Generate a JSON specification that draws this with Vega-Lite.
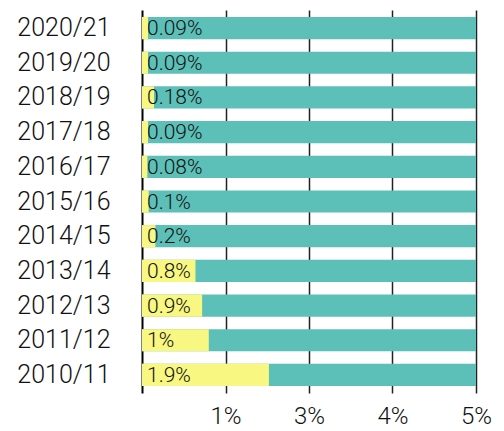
{
  "$schema": "https://vega.github.io/schema/vega-lite/v6.json",
  "autosize": {"type": "none"},
  "padding": {"left": 142, "top": 10, "right": 28, "bottom": 38},
  "width": 334,
  "height": 383,
  "background": "white",
  "config": {
    "view": {"stroke": null},
    "font": "Roboto"
  },
  "data": {
    "values": [
      {"year": "2020/21", "share": 0.0009, "total": 0.05},
      {"year": "2019/20", "share": 0.0009, "total": 0.05},
      {"year": "2018/19", "share": 0.0018, "total": 0.05},
      {"year": "2017/18", "share": 0.0009, "total": 0.05},
      {"year": "2016/17", "share": 0.0008, "total": 0.05},
      {"year": "2015/16", "share": 0.001, "total": 0.05},
      {"year": "2014/15", "share": 0.002, "total": 0.05},
      {"year": "2013/14", "share": 0.008, "total": 0.05},
      {"year": "2012/13", "share": 0.009, "total": 0.05},
      {"year": "2011/12", "share": 0.01, "total": 0.05},
      {"year": "2010/11", "share": 0.019, "total": 0.05}
    ]
  },
  "encoding": {
    "y": {
      "field": "year",
      "type": "nominal",
      "sort": null,
      "scale": {"paddingInner": 0.36, "paddingOuter": 0.2},
      "axis": {
        "title": null,
        "ticks": false,
        "labelFontSize": 25,
        "labelFont": "Roboto",
        "labelFontWeight": 300,
        "labelColor": "#111",
        "labelPadding": 32,
        "domainColor": "#000",
        "domainWidth": 2,
        "grid": false
      }
    }
  },
  "layer": [
    {
      "mark": {"type": "bar", "color": "#5dc0b8", "cornerRadius": 0},
      "encoding": {
        "x": {
          "field": "total",
          "type": "quantitative",
          "scale": {"domain": [0, 0.05], "nice": false},
          "axis": {
            "title": null,
            "values": [0.0125, 0.025, 0.0375, 0.05],
            "format": ".0%",
            "domain": false,
            "ticks": false,
            "grid": true,
            "gridColor": "#222",
            "gridWidth": 1.5,
            "labelFontSize": 24,
            "labelFont": "Roboto",
            "labelFontWeight": 300,
            "labelFlush": false,
            "labelColor": "#111",
            "labelPadding": 11
          }
        }
      }
    },
    {
      "mark": {"type": "bar", "color": "#f8f781"},
      "encoding": {
        "x": {"field": "share", "type": "quantitative"}
      }
    },
    {
      "mark": {"type": "text", "align": "left", "baseline": "middle", "dx": 5, "dy": 1, "fontSize": 21, "font": "Roboto", "fontWeight": 300, "color": "#111"},
      "encoding": {
        "x": {"datum": 0},
        "text": {"field": "share", "type": "quantitative", "format": ".2~%"}
      }
    }
  ]
}
